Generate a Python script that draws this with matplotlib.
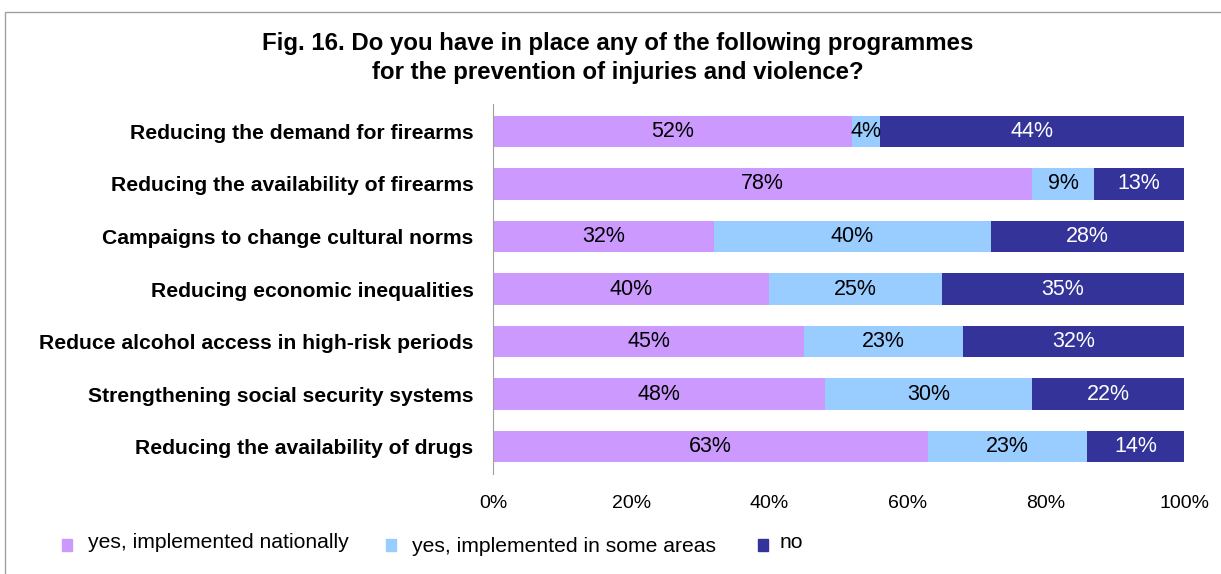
import matplotlib.pyplot as plt
from matplotlib.patches import Rectangle

plt.rcParams['font.family'] = ['Liberation Sans', 'DejaVu Sans']

categories = [
    'Reducing the demand for firearms',
    'Reducing the availability of firearms',
    'Campaigns to change cultural norms',
    'Reducing economic inequalities',
    'Reduce alcohol access in high-risk periods',
    'Strengthening social security systems',
    'Reducing the availability of drugs',
]
national = [52, 78, 32, 40, 45, 48, 63]
some_areas = [4, 9, 40, 25, 23, 30, 23]
no = [44, 13, 28, 35, 32, 22, 14]

series_names = ['yes, implemented nationally', 'yes, implemented in some areas', 'no']
colors = ['#CC99FF', '#99CCFF', '#333399']
text_colors = ['black', 'black', 'white']

fig = plt.figure(figsize=(12.21, 5.74), dpi=100)
ax = fig.add_axes([0.4038, 0.1742, 0.5659, 0.6446])

# outer chart frame
fig.add_artist(Rectangle((0.004, -0.1), 1.2, 1.079, transform=fig.transFigure,
                         fill=False, edgecolor='#A0A0A0', linewidth=1.0))

y = range(len(categories))
left = [0] * len(categories)
for vals, c, tc in zip([national, some_areas, no], colors, text_colors):
    bars = ax.barh(y, vals, left=left, height=0.6, color=c, edgecolor='none')
    for b, v in zip(bars, vals):
        ax.text(b.get_x() + b.get_width() / 2, b.get_y() + b.get_height() / 2,
                f'{v}%', ha='center', va='center', color=tc, fontsize=15.5)
    left = [l + v for l, v in zip(left, vals)]

ax.set_ylim(len(categories) - 0.48, -0.52)
ax.set_xlim(0, 100)
ax.set_yticks(list(y))
ax.set_yticklabels(categories, fontsize=15.2, fontweight='bold')
ax.set_xticks([0, 20, 40, 60, 80, 100])
ax.set_xticklabels(['0%', '20%', '40%', '60%', '80%', '100%'], fontsize=14)
ax.tick_params(axis='y', length=0, pad=14)
ax.tick_params(axis='x', length=0, pad=15)
for s in ['top', 'right', 'bottom']:
    ax.spines[s].set_visible(False)
ax.spines['left'].set_color('#A0A0A0')

fig.text(0.506, 0.899, 'Fig. 16. Do you have in place any of the following programmes\n'
         'for the prevention of injuries and violence?',
         ha='center', va='center', fontsize=17.3, fontweight='bold', linespacing=1.3)

# legend entries along the bottom
legend_x = [62, 386, 758]
text_x = [88, 412, 780]
text_y = [542, 547, 543]
for name, c, sx, tx, ty in zip(series_names, colors, legend_x, text_x, text_y):
    fig.add_artist(Rectangle((sx / 1221, 1 - 551 / 574), 10 / 1221, 12 / 574,
                             transform=fig.transFigure, color=c))
    fig.text(tx / 1221, 1 - ty / 574, name, ha='left', va='center', fontsize=15.2)

fig.savefig('out.png', dpi=100)
